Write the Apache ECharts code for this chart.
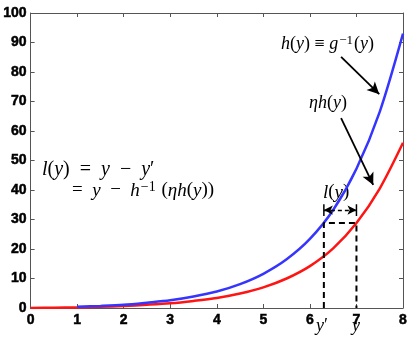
<!DOCTYPE html>
<html>
<head>
<meta charset="utf-8">
<script src="https://cdn.jsdelivr.net/npm/echarts@6/dist/echarts.min.js"></script>
<style>
  html, body { margin: 0; padding: 0; background: #fff; }
  #chart { width: 415px; height: 340px; }
</style>
</head>
<body>
<div id="chart"></div>
<script>
// values
let xs = [0, 0.5, 1, 1.5, 2, 2.5, 3, 3.5, 4, 4.5, 5, 5.5, 6, 6.5, 7, 7.5, 8];
let hVals = [null, null, 0.4, 0.7, 1.1, 1.8, 2.6, 3.9, 5.6, 8.1, 11.6, 16.5, 23.4, 33.2, 47.2, 66.5, 93];
let etaHVals = [0, 0.1, 0.2, 0.4, 0.7, 1.1, 1.6, 2.4, 3.4, 4.9, 7.0, 10.0, 14.2, 20.2, 28.8, 40.5, 56];
let xTicks = [0, 1, 2, 3, 4, 5, 6, 7, 8];
let yTicks = [0, 10, 20, 30, 40, 50, 60, 70, 80, 90, 100];
let yPrime = 6.3, yPoint = 7, level = 28.8, lLevel = 33.2;

let axisColor = '#555';
let tickFont = { color: '#000', fontSize: 14, fontWeight: 700, fontFamily: 'Liberation Sans, Arial, sans-serif', textBorderColor: '#000', textBorderWidth: 0.5 };

function pairs(vals) {
	return xs.map(function (x, i) { return vals[i] == null ? null : [x, vals[i]]; }).filter(function (p) { return p; });
}

function rich(size) {
	return {
		i: { fontFamily: 'Liberation Serif', fontStyle: 'italic', fontSize: size, color: '#000' },
		r: { fontFamily: 'Liberation Serif', fontSize: size, color: '#000' },
		s: { fontFamily: 'Liberation Serif', fontSize: size - 5, color: '#000', verticalAlign: 'top', padding: [0, 1, 7, 1] }
	};
}

let arrowLine = { color: '#000', width: 1.8, type: 'solid' };

let myChart = echarts.init(document.getElementById('chart'));
let option = {
	animation: false,
	grid: { left: 30, right: 12, top: 13, bottom: 32 },
	xAxis: [{
		type: 'value', min: xTicks[0], max: xTicks[xTicks.length - 1], interval: 1,
		axisLine: { lineStyle: { color: axisColor, width: 1 } },
		axisTick: { inside: true, length: 4, lineStyle: { color: axisColor } },
		axisLabel: Object.assign({ margin: 5 }, tickFont),
		splitLine: { show: false }
	}, {
		type: 'value', position: 'top', min: 0, max: 8, interval: 1,
		axisLine: { onZero: false, lineStyle: { color: axisColor, width: 1 } },
		axisTick: { inside: true, length: 4, lineStyle: { color: axisColor } },
		axisLabel: { show: false }, splitLine: { show: false }
	}],
	yAxis: [{
		type: 'value', min: yTicks[0], max: yTicks[yTicks.length - 1], interval: 10,
		axisLine: { show: true, lineStyle: { color: axisColor, width: 1 } },
		axisTick: { show: true, inside: true, length: 4, lineStyle: { color: axisColor } },
		axisLabel: Object.assign({ margin: 4 }, tickFont),
		splitLine: { show: false }
	}, {
		type: 'value', position: 'right', min: 0, max: 100, interval: 10,
		axisLine: { show: true, onZero: false, lineStyle: { color: axisColor, width: 1 } },
		axisTick: { show: true, inside: true, length: 4, lineStyle: { color: axisColor } },
		axisLabel: { show: false }, splitLine: { show: false }
	}],
	series: [{
		name: 'etah', type: 'line', data: pairs(etaHVals), smooth: 0.3, showSymbol: false,
		lineStyle: { color: '#ff1414', width: 2.5 }
	}, {
		name: 'h', type: 'line', data: pairs(hVals), smooth: 0.3, showSymbol: false,
		lineStyle: { color: '#3535ff', width: 2.5 },
		markLine: {
			silent: true, symbol: ['none', 'arrow'], symbolSize: [9, 12],
			lineStyle: arrowLine, label: { show: false },
			data: [
				[{ coord: [6.67, 85.1] }, { coord: [7.49, 72.5] }],
				[{ coord: [6.67, 64.4] }, { coord: [7.36, 41.7] }]
			]
		}
	}, {
		name: 'dash', type: 'line', showSymbol: false, z: 5,
		data: [[yPrime, 0], [yPrime, level], [yPoint, level], [yPoint, 0]],
		lineStyle: { color: '#000', width: 2, type: [6, 4] },
		markLine: {
			silent: true, symbol: ['arrow', 'arrow'], symbolSize: [7, 9],
			lineStyle: { color: '#000', width: 1.3, type: [4, 3] }, label: { show: false },
			data: [[{ coord: [yPrime, lLevel] }, { coord: [yPoint, lLevel] }]]
		}
	}, {
		name: 'lbars', type: 'line', showSymbol: false,
		data: [[yPrime, lLevel - 2], [yPrime, lLevel + 2], null, [yPoint, lLevel - 2], [yPoint, lLevel + 2]],
		connectNulls: false,
		lineStyle: { color: '#000', width: 1.5 }
	}],
	graphic: [{
		type: 'text', left: 281, top: 34,
		style: { text: '{i|h}{r|(}{i|y}{r|) ≡ }{i|g}{s|−1}{r|(}{i|y}{r|)}', rich: rich(18) }
	}, {
		type: 'text', left: 309, top: 94,
		style: { text: '{i|ηh}{r|(}{i|y}{r|)}', rich: rich(18) }
	}, {
		type: 'text', left: 323, top: 183,
		style: { text: '{i|l}{r|(}{i|y}{r|)}', rich: rich(19) }
	}, {
		type: 'text', left: 42, top: 160,
		style: { text: '{i|l}{r|(}{i|y}{r|)  =  }{i|y}{r|  −  }{i|y}{r|′}', rich: rich(20) }
	}, {
		type: 'text', left: 72, top: 180,
		style: { text: '{r|=  }{i|y}{r|  −  }{i|h}{s|−1}{r| (}{i|ηh}{r|(}{i|y}{r|))}', rich: rich(19) }
	}, {
		type: 'text', left: 316, top: 317,
		style: { text: '{i|y}{r|′}', rich: rich(18) }
	}, {
		type: 'text', left: 352, top: 317,
		style: { text: '{i|y}', rich: rich(18) }
	}]
};
myChart.setOption(option);
</script>
</body>
</html>
